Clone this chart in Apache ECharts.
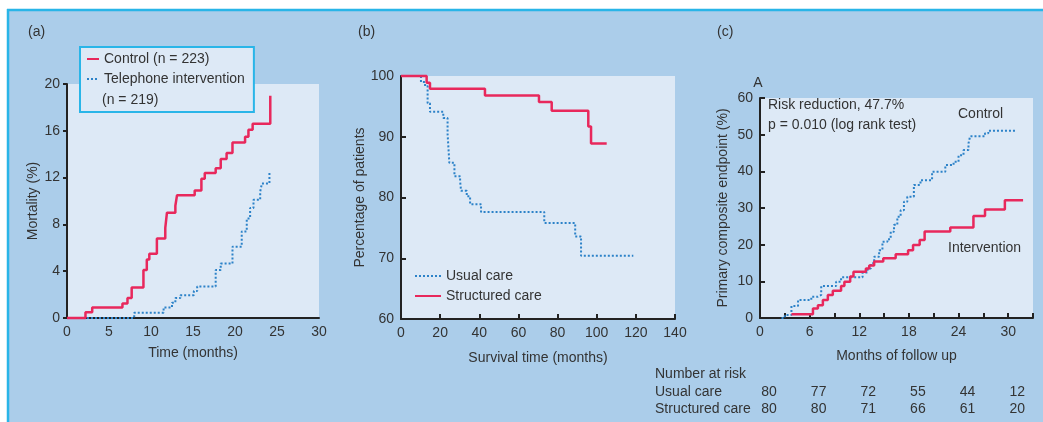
<!DOCTYPE html>
<html>
<head>
<meta charset="utf-8">
<script src="https://cdn.jsdelivr.net/npm/echarts@6/dist/echarts.min.js"></script>
<style>
  html, body { margin: 0; padding: 0; background: #fff; }
  #chart { width: 1043px; height: 422px; }
</style>
</head>
<body>
<div id="chart"></div>
<script>
// (a) mortality (%) by month, step points [month, value after step]
const controlA = [[0,0],[2.2,0.5],[3.0,0.9],[6.6,1.25],[7.2,1.7],[7.7,2.6],[9.1,4.1],[9.5,5.0],[9.8,5.5],[10.7,6.8],[11.7,7.7],[11.9,9.0],[12.9,9.6],[13.1,10.5],[15.2,10.9],[16.0,11.9],[16.4,12.4],[17.7,12.8],[18.3,13.6],[19.0,14.1],[19.7,15.0],[21.2,15.5],[21.6,16.1],[22.1,16.6],[24.2,19.0]];
const phoneA = [[0,0],[8.0,0.45],[11.5,0.9],[12.5,1.3],[12.9,1.7],[13.5,1.95],[15.1,2.3],[15.5,2.7],[17.7,4.1],[18.3,4.65],[19.7,6.1],[20.8,7.4],[21.4,8.5],[21.8,9.4],[22.2,10.1],[23.0,10.8],[23.2,11.5],[24.1,12.5]];

// (b) percentage of patients surviving
const usualB = [[0,100],[10.2,99.0],[12.3,98.3],[13.6,95.5],[14.8,94.1],[21.6,93.1],[23.8,90.5],[24.7,85.7],[27.3,83.5],[30.2,82.7],[30.7,81.1],[33.6,80.2],[35.3,78.9],[40.9,77.6],[73.2,75.8],[89.0,73.6],[92.0,70.4],[118.7,70.4]];
const structuredB = [[0,100],[13.1,98.9],[14.8,97.9],[42.9,96.8],[70.5,95.7],[77.0,94.3],[95.7,91.7],[97.1,88.9],[105.1,88.9]];

// (c) primary composite endpoint (%)
const controlC = [[2.6,0],[3.0,0.8],[3.8,3.3],[4.6,4.9],[6.2,5.8],[7.0,6.3],[7.4,8.7],[9.2,9.9],[9.8,11.1],[12.4,12.4],[13.0,13.5],[13.4,14.9],[13.8,16.7],[14.4,18.5],[14.8,20.8],[15.4,21.5],[15.8,23.5],[16.2,25.4],[16.6,27.6],[17.0,29.4],[17.4,31.7],[17.8,33.1],[18.6,36.3],[19.4,37.6],[20.8,39.9],[22.4,41.7],[23.4,42.6],[24.0,44.4],[24.6,45.8],[25.2,47.6],[25.4,49.6],[27.2,50.4],[27.6,51.1],[31.0,51.1]];
const interventionC = [[3.8,1.0],[6.4,2.6],[7.0,3.5],[7.6,4.9],[8.2,6.3],[8.8,7.4],[9.8,8.7],[10.2,9.9],[10.9,11.3],[11.3,12.6],[12.8,13.5],[13.2,14.3],[13.8,15.4],[14.9,16.3],[16.4,17.4],[17.9,18.5],[18.5,19.9],[19.3,21.3],[19.9,23.6],[23.0,24.7],[25.8,27.8],[27.2,29.6],[29.6,32.1],[31.8,32.1]];

// number at risk table for (c)
const riskMonths = [0, 6, 12, 18, 24, 30];
const riskUsual = [80, 77, 72, 55, 44, 12];
const riskStructured = [80, 80, 71, 66, 61, 20];

const RED = '#e8285c';
const BLUE = '#2c82c8';
const PANEL = '#abcdea';
const PLOT = '#dde9f6';
const CYAN = '#29b5e8';
const INK = '#333';
const FONT = '"Liberation Sans", Arial, sans-serif';

const chart = echarts.init(document.getElementById('chart'));

function axisBase(extra) {
  return Object.assign({
    type: 'value',
    splitLine: { show: false },
    axisLine: { show: true, lineStyle: { color: '#222', width: 2 } },
    axisTick: { show: true, inside: true, length: 5, lineStyle: { color: '#222', width: 2 } },
    axisLabel: { color: INK, fontSize: 14, fontFamily: FONT, margin: 7 },
    nameLocation: 'middle',
    nameTextStyle: { color: INK, fontSize: 14, fontFamily: FONT }
  }, extra);
}

function stepLine(name, data, idx, color, dotted) {
  return {
    name: name, type: 'line', step: 'end', data: data,
    xAxisIndex: idx, yAxisIndex: idx,
    symbol: 'none', clip: false, silent: true,
    lineStyle: { color: color, width: dotted ? 2 : 2.5, type: dotted ? [2, 2] : 'solid' },
    itemStyle: { color: color },
    z: dotted ? 2 : 3
  };
}

chart.setOption({
  animation: false,
  textStyle: { fontFamily: FONT },
  grid: [
    { left: 67, top: 84, width: 252, height: 234, show: true, backgroundColor: PLOT, borderWidth: 0 },
    { left: 401, top: 76, width: 274, height: 243, show: true, backgroundColor: PLOT, borderWidth: 0 },
    { left: 760, top: 98, width: 273, height: 220, show: true, backgroundColor: PLOT, borderWidth: 0 }
  ],
  xAxis: [
    axisBase({ gridIndex: 0, min: 0, max: 30, interval: 5, name: 'Time (months)', nameGap: 28,
      axisTick: { show: false } }),
    axisBase({ gridIndex: 1, min: 0, max: 140, interval: 20, name: 'Survival time (months)', nameGap: 32 }),
    axisBase({ gridIndex: 2, min: 0, max: 33, interval: 3, name: 'Months of follow up', nameGap: 31,
      axisLabel: { color: INK, fontSize: 14, fontFamily: FONT, margin: 7,
        formatter: v => (v % 6 === 0 && v <= 30) ? String(v) : '' } })
  ],
  yAxis: [
    axisBase({ gridIndex: 0, min: 0, max: 20, interval: 4, name: 'Mortality (%)', nameGap: 26,
      axisTick: { show: true, inside: false, length: 4, lineStyle: { color: '#222', width: 2 } } }),
    axisBase({ gridIndex: 1, min: 60, max: 100, interval: 10, name: 'Percentage of patients', nameGap: 29 }),
    axisBase({ gridIndex: 2, min: 0, max: 60, interval: 10, name: 'Primary composite endpoint (%)', nameGap: 30 })
  ],
  legend: [
    {
      data: ['Control (n = 223)', 'Telephone intervention'],
      orient: 'vertical', left: 80, top: 47,
      itemWidth: 12, itemHeight: 14, itemGap: 6,
      padding: [5, 9, 26, 6],
      backgroundColor: PLOT, borderColor: CYAN, borderWidth: 2,
      selectedMode: false,
      itemStyle: { opacity: 0 },
      textStyle: { color: INK, fontSize: 14, fontFamily: FONT }
    },
    {
      data: ['Usual care', 'Structured care'],
      orient: 'vertical', left: 414, top: 269,
      itemWidth: 26, itemHeight: 14, itemGap: 6,
      padding: 0, selectedMode: false,
      itemStyle: { opacity: 0 },
      textStyle: { color: INK, fontSize: 14, fontFamily: FONT }
    }
  ],
  series: [
    stepLine('Telephone intervention', phoneA, 0, BLUE, true),
    stepLine('Control (n = 223)', controlA, 0, RED, false),
    stepLine('Usual care', usualB, 1, BLUE, true),
    stepLine('Structured care', structuredB, 1, RED, false),
    stepLine('Control', controlC, 2, BLUE, true),
    stepLine('Intervention', interventionC, 2, RED, false)
  ]
});

function txt(text, x, y, align, extra) {
  return Object.assign({
    type: 'text', x: x, y: y, z: 100,
    style: { text: text, fill: INK, font: '14px ' + FONT, align: align || 'left', verticalAlign: 'middle' }
  }, extra || {});
}

const graphics = [
  { type: 'rect', z: -10, shape: { x: 8, y: 10, width: 1035, height: 412 }, style: { fill: PANEL } },
  { type: 'line', z: -9, shape: { x1: 7, y1: 10, x2: 1043, y2: 10 }, style: { stroke: CYAN, lineWidth: 2.5 } },
  { type: 'line', z: -9, shape: { x1: 8, y1: 9, x2: 8, y2: 422 }, style: { stroke: CYAN, lineWidth: 2.5 } },
  txt('(a)', 28, 32),
  txt('(b)', 358, 32),
  txt('(c)', 717, 32),
  txt('(n = 219)', 102, 100),
  txt('A', 758, 83, 'center'),
  txt('Risk reduction, 47.7%', 768, 105),
  txt('p = 0.010 (log rank test)', 768, 125),
  txt('Control', 958, 114),
  txt('Intervention', 948, 248),
  txt('Number at risk', 655, 374),
  txt('Usual care', 655, 392),
  txt('Structured care', 655, 409)
];

riskMonths.forEach((m, i) => {
  const px = chart.convertToPixel({ xAxisIndex: 2 }, m) + 9;
  graphics.push(txt(String(riskUsual[i]), px, 392, 'center'));
  graphics.push(txt(String(riskStructured[i]), px, 409, 'center'));
});

chart.setOption({ graphic: graphics });
</script>
</body>
</html>
